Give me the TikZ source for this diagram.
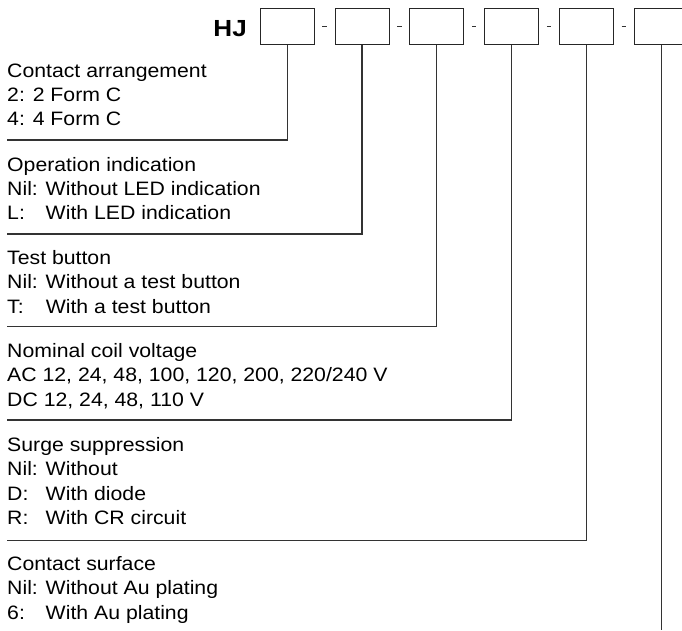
\documentclass[tikz,border=0pt]{standalone}
\usepackage{fontspec}
\setmainfont{Liberation Sans}
\usetikzlibrary{calc}
\newlength\nilw
\newcommand\lbl[1]{\scalebox{1.095}[1]{#1}}
\newcommand\opt[2]{\settowidth\nilw{Nil: }\lbl{\makebox[\nilw][l]{#1}#2}}
\tikzset{
  codebox/.style={draw=black!85, line width=1pt, minimum width=54pt, minimum height=36pt, inner sep=0, fill=white},
  txt/.style={anchor=base west, inner sep=0, font=\fontsize{19.4}{24}\selectfont},
  lead/.style={draw=black!80, line width=1.1pt},
  hyph/.style={draw=black!80, line width=0.8pt},
}
\begin{document}
\begin{tikzpicture}[x=1pt,y=-1pt]
\useasboundingbox (0,0) rectangle (682,630);
\clip (0,0) rectangle (682,630);
% HJ
\node[anchor=base east, inner sep=0, font=\bfseries\fontsize{23.3}{24}\selectfont] (hj) at (247,36.7) {\scalebox{1.12}[1]{HJ}};
% code boxes
\node[codebox] (b1) at (287.3,26) {};
\node[codebox] (b2) at (362.0,26) {};
\node[codebox] (b3) at (436.8,26) {};
\node[codebox] (b4) at (511.6,26) {};
\node[codebox] (b5) at (586.3,26) {};
\node[codebox] (b6) at (661.1,26) {};
% hyphens
\foreach \a/\b in {b1/b2,b2/b3,b3/b4,b4/b5,b5/b6}{
  \draw[hyph] ($(\a.east)!0.5!(\b.west)+(-2.2,0.7)$) -- ++(4.4,0);
}
% leader end points
\coordinate (e1) at (7,140);
\coordinate (e2) at (7,234);
\coordinate (e3) at (7,326.5);
\coordinate (e4) at (7,420);
\coordinate (e5) at (7,540.5);
\coordinate (e6) at (661.1,630);
\draw[lead] (b1.south) |- (e1);
\draw[lead] (b2.south) |- (e2);
\draw[lead] (b3.south) |- (e3);
\draw[lead] (b4.south) |- (e4);
\draw[lead] (b5.south) |- (e5);
\draw[lead] (b6.south) -- (e6);
% group 1
\node[txt] (g1a) at (7,77) {\lbl{Contact arrangement}};
\node[txt] (g1b) at (7,101) {\lbl{2: 2 Form C}};
\node[txt] (g1c) at (7,125) {\lbl{4: 4 Form C}};
% group 2
\node[txt] (g2a) at (7,171) {\lbl{Operation indication}};
\node[txt] (g2b) at (7,195) {\opt{Nil:}{Without LED indication}};
\node[txt] (g2c) at (7,219) {\opt{L:}{With LED indication}};
% group 3
\node[txt] (g3a) at (7,264) {\lbl{Test button}};
\node[txt] (g3b) at (7,288.5) {\opt{Nil:}{Without a test button}};
\node[txt] (g3c) at (7,313) {\opt{T:}{With a test button}};
% group 4
\node[txt] (g4a) at (7,357) {\lbl{Nominal coil voltage}};
\node[txt] (g4b) at (7,381.5) {\lbl{AC 12, 24, 48, 100, 120, 200, 220/240 V}};
\node[txt] (g4c) at (7,406) {\lbl{DC 12, 24, 48, 110 V}};
% group 5
\node[txt] (g5a) at (7,451) {\lbl{Surge suppression}};
\node[txt] (g5b) at (7,475.5) {\opt{Nil:}{Without}};
\node[txt] (g5c) at (7,500) {\opt{D:}{With diode}};
\node[txt] (g5d) at (7,524.5) {\opt{R:}{With CR circuit}};
% group 6
\node[txt] (g6a) at (7,570) {\lbl{Contact surface}};
\node[txt] (g6b) at (7,594.5) {\opt{Nil:}{Without Au plating}};
\node[txt] (g6c) at (7,619) {\opt{6:}{With Au plating}};
\end{tikzpicture}
\end{document}
